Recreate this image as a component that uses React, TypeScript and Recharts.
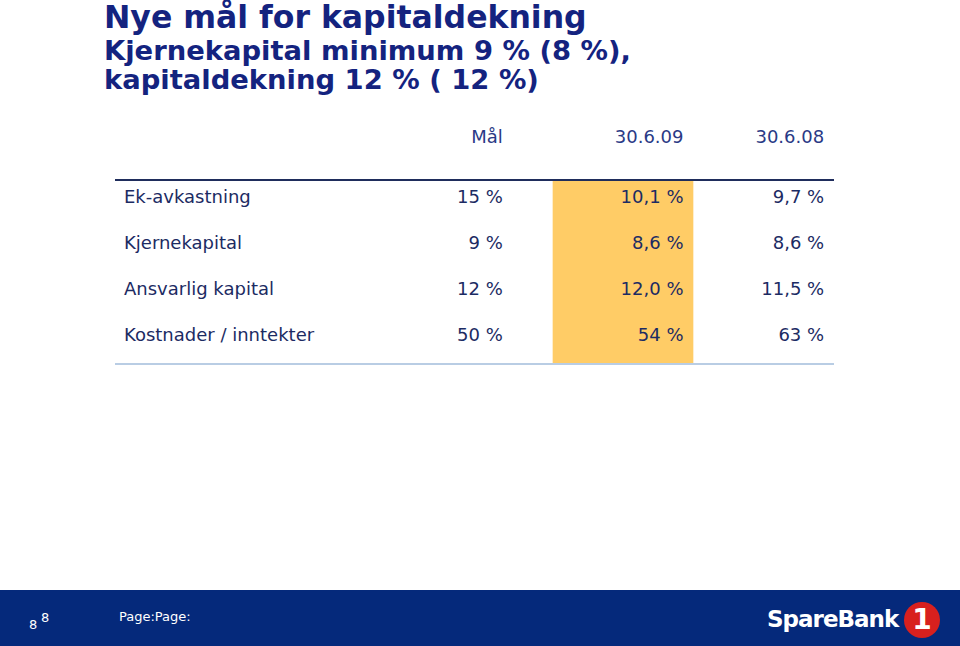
import React from 'react';
import { ScatterChart, Scatter, XAxis, YAxis, ReferenceArea } from 'recharts';

const TITLE = 'Nye mål for kapitaldekning';
const SUBTITLE = ['Kjernekapital minimum 9 % (8 %),', 'kapitaldekning 12 % ( 12 %)'];

const ROWS = ['Ek-avkastning', 'Kjernekapital', 'Ansvarlig kapital', 'Kostnader / inntekter'];
const COLUMNS = ['Mål', '30.6.09', '30.6.08'];
const MAAL = ['15 %', '9 %', '12 %', '50 %'];
const JUNE_09 = ['10,1 %', '8,6 %', '12,0 %', '54 %'];
const JUNE_08 = ['9,7 %', '8,6 %', '11,5 %', '63 %'];
const HIGHLIGHT = '30.6.09';

const NAVY = '#14237f';
const TEXT = '#1c2b63';
const FONT = '"DejaVu Sans", Verdana, sans-serif';

// layout of the table
const PLOT_LEFT = 114;
const PLOT_W = 720;
const LABEL_W = 297;
const COL_W = (PLOT_W - LABEL_W) / COLUMNS.length;
const INSET: Record<string, number> = { 'Mål': 50, '30.6.09': 10, '30.6.08': 10 };

const cells = ROWS.flatMap((row, i) => [
  { row, col: COLUMNS[0], text: MAAL[i] },
  { row, col: COLUMNS[1], text: JUNE_09[i] },
  { row, col: COLUMNS[2], text: JUNE_08[i] },
]);

const CellText = (props: any) => {
  const { cx, cy, payload } = props;
  if (cx == null || cy == null) return null;
  return (
    <text x={cx + COL_W / 2 - INSET[payload.col]} y={cy} textAnchor="end" fontSize={18} fontFamily={FONT} fill={TEXT}>
      {payload.text}
    </text>
  );
};

const HeaderTick = (props: any) => {
  const { x, y, payload } = props;
  return (
    <text x={x + COL_W / 2 - INSET[payload.value]} y={y - 37} textAnchor="end" fontSize={18} fontFamily={FONT} fill="#2a3a86">
      {payload.value}
    </text>
  );
};

const RowTick = (props: any) => {
  const { y, payload } = props;
  return (
    <text x={PLOT_LEFT + 10} y={y} textAnchor="start" fontSize={18} fontFamily={FONT} fill={TEXT}>
      {payload.value}
    </text>
  );
};

export default function App() {
  return (
    <div style={{ position: 'absolute', left: 0, top: 0, width: 960, height: 646, background: '#fff', overflow: 'hidden', fontFamily: FONT }}>
      <div style={{ position: 'absolute', left: 104, top: 0, color: NAVY, fontWeight: 'bold', fontSize: 31.5, lineHeight: '34px', whiteSpace: 'nowrap' }}>
        {TITLE}
      </div>
      {SUBTITLE.map((line, i) => (
        <div key={line} style={{ position: 'absolute', left: 104, top: 36 + i * 29, color: NAVY, fontWeight: 'bold', fontSize: 27.4, lineHeight: '30px', whiteSpace: 'nowrap' }}>
          {line}
        </div>
      ))}

      <div style={{ position: 'absolute', left: 0, top: 0 }}>
        <ScatterChart width={960} height={400} margin={{ top: 100, right: 960 - PLOT_LEFT - PLOT_W, bottom: 34, left: PLOT_LEFT }}>
          <XAxis
            xAxisId="top"
            orientation="top"
            type="category"
            dataKey="col"
            allowDuplicatedCategory={false}
            height={80}
            padding={{ left: LABEL_W, right: 0 }}
            tickLine={false}
            tickSize={0}
            tickMargin={0}
            axisLine={{ stroke: '#1f2d5c', strokeWidth: 2 }}
            tick={<HeaderTick />}
            interval={0}
          />
          <XAxis
            xAxisId="bot"
            orientation="bottom"
            type="number"
            domain={[0, 1]}
            height={2}
            tick={false}
            tickLine={false}
            axisLine={{ stroke: '#b9cde4', strokeWidth: 2 }}
          />
          <YAxis
            type="category"
            dataKey="row"
            allowDuplicatedCategory={false}
            width={1}
            reversed
            tickLine={false}
            tickSize={0}
            tickMargin={0}
            axisLine={false}
            tick={<RowTick />}
            interval={0}
          />
          <ReferenceArea xAxisId="top" x1={HIGHLIGHT} x2={HIGHLIGHT} fill="#ffcc66" fillOpacity={1} stroke="none" />
          <Scatter xAxisId="top" data={cells} shape={<CellText />} isAnimationActive={false} />
        </ScatterChart>
      </div>

      <div style={{ position: 'absolute', left: 0, top: 590, width: 960, height: 56, background: '#05297b' }}>
        <span style={{ position: 'absolute', left: 29, top: 27, color: '#fff', fontSize: 13 }}>8</span>
        <span style={{ position: 'absolute', left: 41, top: 20, color: '#fff', fontSize: 13 }}>8</span>
        <span style={{ position: 'absolute', left: 119, top: 19, color: '#fff', fontSize: 13 }}>Page:Page:</span>
        <span style={{ position: 'absolute', left: 767, top: 16, color: '#fff', fontSize: 23, fontWeight: 'bold', letterSpacing: -1 }}>SpareBank</span>
        <div style={{ position: 'absolute', left: 904, top: 12, width: 36, height: 36, borderRadius: 18, background: '#d8201e', color: '#fff', fontWeight: 'bold', fontSize: 28, lineHeight: '36px', textAlign: 'center' }}>1</div>
      </div>
    </div>
  );
}
